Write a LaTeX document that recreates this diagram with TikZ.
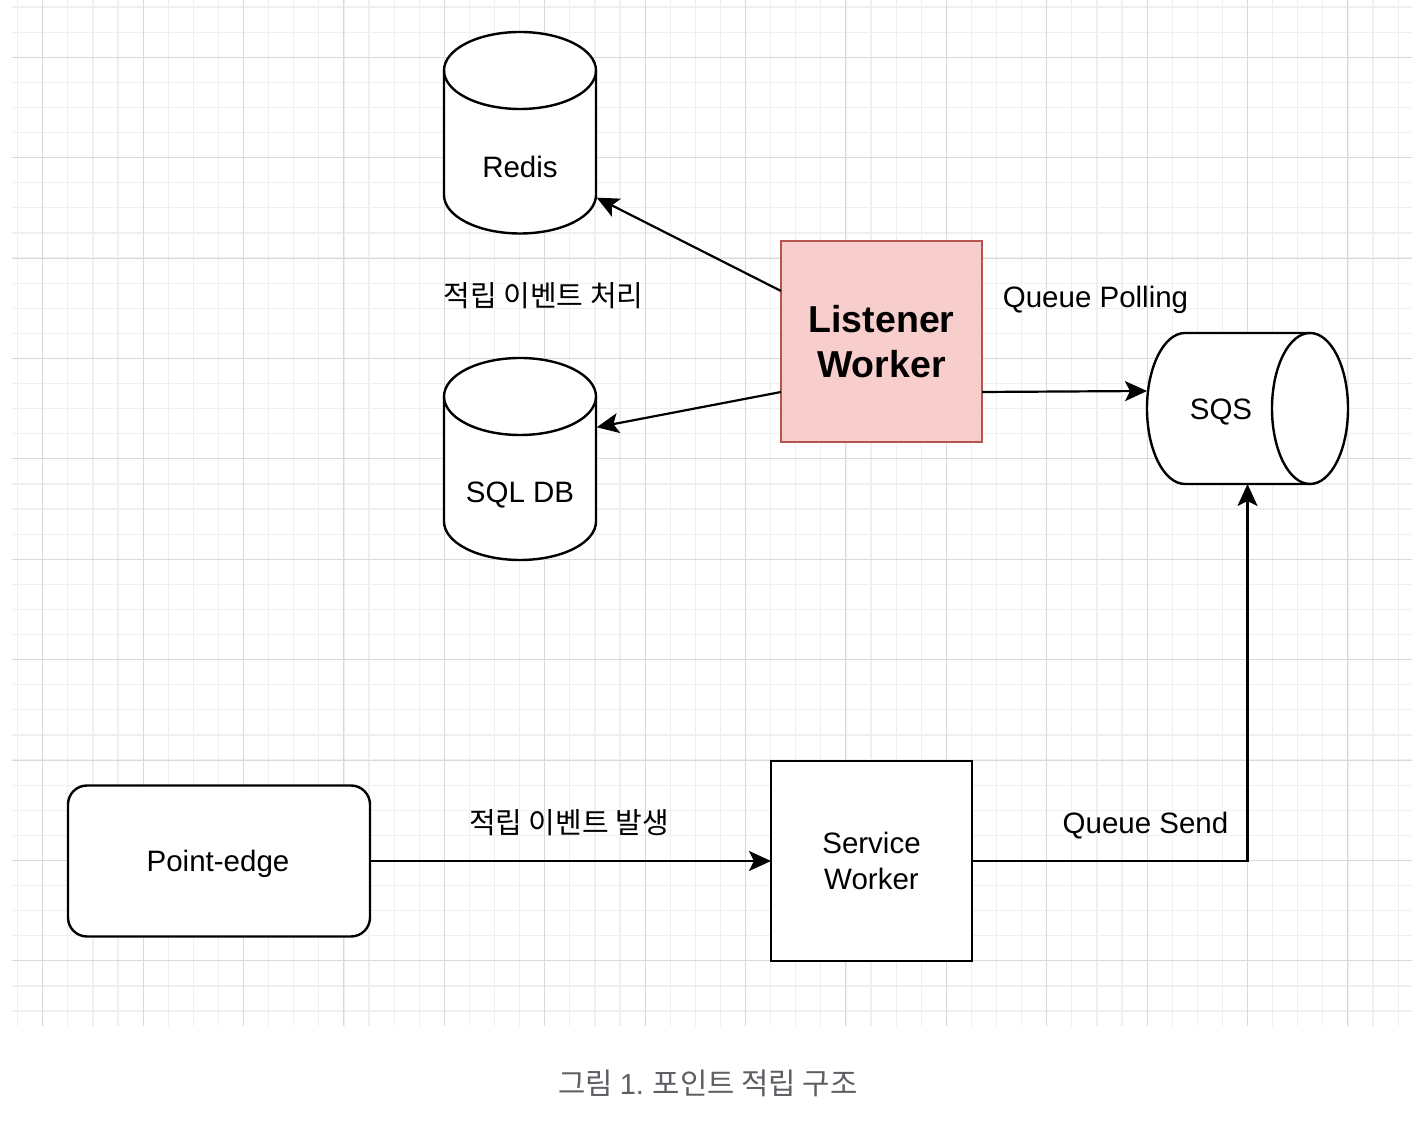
\documentclass[tikz,border=0pt]{standalone}
\usepackage{fontspec}
\setmainfont{Liberation Sans}
\newfontfamily\krfont{Noto Sans CJK KR}
\usetikzlibrary{arrows.meta,calc}
\definecolor{gridmaj}{HTML}{D9D9D9}
\definecolor{gridmin}{HTML}{EFEFEF}
\definecolor{lwfill}{HTML}{F8CECC}
\definecolor{lwdraw}{HTML}{B85450}
\definecolor{capgray}{HTML}{5E5E64}
\begin{document}
\begin{tikzpicture}[x=1pt,y=1pt,
  minorline/.style={draw=gridmin, line width=1.2pt},
  majorline/.style={draw=gridmaj, line width=1pt},
  shp/.style={line width=2.4pt, draw=black, fill=white},
  holder/.style={inner sep=0pt, outer sep=0pt},
  lbl/.style={font=\fontsize{29.5}{35.5}\selectfont, inner sep=0pt},
  krlbl/.style={font=\krfont\fontsize{29}{34}\selectfont, inner sep=0pt},
  arr/.style={line width=2.2pt, draw=black, -{Stealth[length=22pt,width=20pt,inset=5pt]}}
]
\useasboundingbox (0,0) rectangle (1428,1130);
\fill[white] (0,0) rectangle (1428,1130);
% grid
\foreach \n in {0,...,55} {
  \pgfmathsetmacro\gx{17.6+25.1*\n}
  \draw[minorline] (\gx,104) -- (\gx,1130);
}
\foreach \n in {0,...,40} {
  \pgfmathsetmacro\gy{1122.9-25.1*\n}
  \draw[minorline] (12,\gy) -- (1412,\gy);
}
\foreach \n in {0,...,13} {
  \pgfmathsetmacro\gx{42.7+100.4*\n}
  \draw[majorline] (\gx,104) -- (\gx,1130);
}
\foreach \n in {0,...,9} {
  \pgfmathsetmacro\gy{1072.7-100.4*\n}
  \draw[majorline] (12,\gy) -- (1412,\gy);
}

% Redis cylinder
\draw[shp] (444,1059.5) -- (444,935) arc[start angle=180,end angle=360,x radius=76,y radius=38.5]
  -- (596,1059.5) arc[start angle=0,end angle=180,x radius=76,y radius=38.5] -- cycle;
\draw[shp, fill=none] (444,1059.5) arc[start angle=180,end angle=360,x radius=76,y radius=38.5];
\node[holder, minimum width=152pt, minimum height=201pt] (redis) at (520,997.5) {};
\node[lbl] (redislbl) at (520,963) {Redis};

% SQL DB cylinder
\draw[shp] (444,733.5) -- (444,608.5) arc[start angle=180,end angle=360,x radius=76,y radius=38.5]
  -- (596,733.5) arc[start angle=0,end angle=180,x radius=76,y radius=38.5] -- cycle;
\draw[shp, fill=none] (444,733.5) arc[start angle=180,end angle=360,x radius=76,y radius=38.5];
\node[holder, minimum width=152pt, minimum height=202pt] (sql) at (520,671) {};
\node[lbl] (sqllbl) at (520,635) {SQL DB};

% SQS horizontal cylinder
\draw[shp] (1185,797) -- (1310,797) arc[start angle=90,end angle=-90,x radius=38,y radius=75.5]
  -- (1185,646) arc[start angle=270,end angle=90,x radius=38,y radius=75.5] -- cycle;
\draw[shp, fill=none] (1310,797) arc[start angle=90,end angle=270,x radius=38,y radius=75.5];
\node[holder, minimum width=201pt, minimum height=151pt] (sqs) at (1247.5,721.5) {};
\node[lbl] (sqslbl) at (1221,718) {SQS};

% Listener Worker
\node[holder, draw=lwdraw, fill=lwfill, line width=2pt, minimum width=201pt, minimum height=201pt,
  align=center, font=\fontsize{37.5}{45}\selectfont\bfseries] (lw) at (881.5,788.5) {Listener\\Worker};

% Point-edge
\node[holder, shp, rounded corners=19pt, minimum width=302pt, minimum height=151pt] (pe) at (219,269) {};
\node[lbl] (pelbl) at (218,266) {Point-edge};

% Service Worker
\node[holder, shp, minimum width=201pt, minimum height=200pt, align=center,
  font=\fontsize{29.5}{35.5}\selectfont] (sw) at (871.5,269) {Service\\Worker};

% connectors
\draw[arr] ($(lw.west)+(0,50.5)$) -- ($(redis.east)+(0.7,-65.2)$);
\draw[arr] ($(lw.west)+(0,-50.5)$) -- ($(sql.east)+(0.7,31.7)$);
\draw[arr] ($(lw.east)+(0,-50.5)$) -- ($(sqs.west)+(0,17.5)$);
\draw[arr] (pe.east) -- (sw.west);
\draw[arr] (sw.east) -| (sqs.south);

% labels
\node[krlbl] (l1) at (543.5,834) {적립 이벤트 처리};
\node[lbl] (l2) at (1095.5,830) {Queue Polling};
\node[krlbl] (l3) at (569,307) {적립 이벤트 발생};
\node[lbl] (l4) at (1145.5,304) {Queue Send};

% caption
\node[font=\krfont\fontsize{29.7}{35}\selectfont, text=capgray, inner sep=0pt] (cap) at (708,47) {그림 {\rmfamily\fontsize{29}{35}\selectfont 1.} 포인트 적립 구조};
\end{tikzpicture}
\end{document}
